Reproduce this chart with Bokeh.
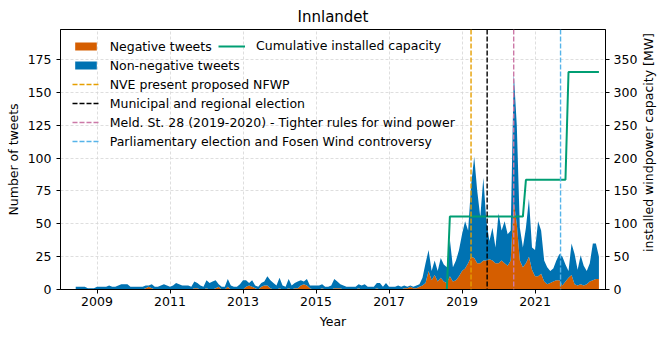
import math
from datetime import date
from bokeh.plotting import figure
from bokeh.models import (Range1d, LinearAxis, FixedTicker, Span, Legend, LegendItem,
                          ColumnDataSource, Label)
from bokeh.embed import file_html
from bokeh.resources import INLINE

# ---------------- data ----------------
first_month = (2008, 6)   # monthly series starts June 2008

negative = [
    0, 0, 0, 0, 0, 0, 0,                               # 2008 Jun-Dec
    0, 0, 0, 0, 0, 0, 0, 0, 0, 0, 0, 0,                 # 2009
    0, 0, 0, 0, 1, 2, 1, 0, 0, 0, 0, 0,                 # 2010
    0, 0, 0, 0, 0, 0, 0, 0, 1, 1, 0, 0,                 # 2011
    1, 0, 0, 1, 2, 0, 0, 2, 0, 0, 0, 0,                 # 2012
    0, 2, 3, 2, 1, 0, 2, 3, 3, 1, 0, 0,                 # 2013
    1, 0, 0, 1, 0, 1, 1, 3, 4, 3, 1, 0,                 # 2014
    0, 0, 1, 0, 0, 0, 1, 1, 1, 0, 0, 0,                 # 2015
    0, 0, 1, 0, 0, 0, 0, 0, 1, 0, 0, 0,                 # 2016
    0, 0, 0, 0, 0, 1, 1, 2, 1, 1, 2, 3,                 # 2017
    5, 14, 7, 11, 6, 9, 6, 5, 10, 6, 7, 10,             # 2018
    14, 16, 20, 25, 24, 20, 20, 22, 22, 23, 22, 20,     # 2019
    20, 22, 20, 18, 22, 67, 50, 22, 17, 20, 25, 15,     # 2020
    10, 10, 12, 6, 4, 5, 6, 7, 7, 3, 6, 9,              # 2021
    11, 4, 3, 4, 3, 4, 6, 7, 8, 8,                      # 2022 Jan-Oct
]

non_negative = [
    2, 2, 2, 2, 1, 1, 1,                                # 2008 Jun-Dec
    2, 2, 2, 2, 3, 2, 2, 3, 4, 4, 4, 2,                 # 2009
    2, 2, 2, 2, 2, 1, 3, 2, 2, 3, 4, 3,                 # 2010
    2, 3, 5, 4, 3, 3, 3, 2, 5, 4, 3, 2,                 # 2011
    6, 5, 6, 6, 2, 2, 2, 6, 3, 2, 2, 4,                 # 2012
    7, 5, 2, 5, 2, 2, 3, 3, 7, 6, 5, 3,                 # 2013
    8, 3, 2, 7, 3, 4, 5, 4, 2, 5, 2, 3,                 # 2014
    3, 3, 3, 2, 2, 3, 7, 5, 3, 3, 2, 2,                 # 2015
    2, 2, 3, 3, 4, 2, 2, 2, 4, 5, 2, 5,                 # 2016
    2, 2, 2, 3, 2, 2, 1, 1, 1, 2, 2, 6,                 # 2017
    15, 16, 7, 11, 8, 15, 13, 12, 28, 11, 15, 20,       # 2018
    28, 36, 25, 55, 77, 55, 35, 63, 30, 14, 25, 12,     # 2019
    38, 23, 32, 24, 23, 98, 75, 25, 15, 27, 44, 17,     # 2020
    20, 42, 33, 16, 13, 9, 10, 15, 20, 22, 13, 5,       # 2021
    24, 23, 12, 22, 15, 10, 14, 28, 27, 17,             # 2022 Jan-Oct
]

cap_months = ["2018-08", "2018-09", "2020-09", "2020-10", "2021-11", "2021-12", "2022-10"]
cap_mw = [0, 111, 111, 167, 167, 331, 331]

event_dates = ["2019-04-01", "2019-09-09", "2020-06-01", "2021-09-13"]
event_labels = ["NVE present proposed NFWP",
                "Municipal and regional election",
                "Meld. St. 28 (2019-2020) - Tighter rules for wind power",
                "Parliamentary election and Fosen Wind controversy"]
event_colors = ["#E69F00", "#000000", "#CC79A7", "#56B4E9"]

year_ticks = [2009, 2011, 2013, 2015, 2017, 2019, 2021]
tweet_ticks = [0, 25, 50, 75, 100, 125, 150, 175]
mw_ticks = [0, 50, 100, 150, 200, 250, 300, 350]

# ---------------- helpers ----------------
def month_to_year(y, m):
    return y + (m - 1) / 12.0

def day_to_year(s):
    d = date.fromisoformat(s)
    start = date(d.year, 1, 1)
    ndays = (date(d.year + 1, 1, 1) - start).days
    return d.year + (d - start).days / ndays

xs = []
y0, m0 = first_month
for i in range(len(negative)):
    k = m0 - 1 + i
    xs.append(month_to_year(y0 + k // 12, k % 12 + 1))

cap_x = [month_to_year(int(s[:4]), int(s[5:])) for s in cap_months]

FONT = "DejaVu Sans"
ORANGE = "#D55E00"
BLUE = "#0072B2"
GREEN = "#009E73"
NAN = float("nan")

X0, X1 = 2008.0, 2022.93
Y1 = 197.9
p = figure(width=665, height=338, output_backend="svg", toolbar_location=None,
           x_range=Range1d(X0, X1), y_range=Range1d(0, Y1),
           min_border_left=60, min_border_right=60, min_border_top=29, min_border_bottom=49)
p.extra_y_ranges = {"mw": Range1d(0, 2 * Y1)}

p.title.text = "Innlandet"
p.title.text_font = FONT
p.title.text_font_size = "15px"
p.title.text_font_style = "normal"
p.title.text_color = "black"
p.title.align = "center"
p.title.standoff = 7

p.background_fill_color = "white"
p.border_fill_color = "white"
p.outline_line_color = "black"
p.outline_line_width = 1

src = ColumnDataSource(dict(x=xs, negative=negative, non_negative=non_negative))
areas = p.varea_stack(stackers=["negative", "non_negative"], x="x",
                      color=[ORANGE, BLUE], source=src)

proxies = []
for d, c in zip(event_dates, event_colors):
    p.add_layout(Span(location=day_to_year(d), dimension="height", line_color=c,
                      line_dash="5 2", line_width=1.4))
    proxies.append(p.line(x=[NAN], y=[NAN], line_color=c, line_dash="5 2", line_width=1.4))

cap_line = p.line(x=cap_x, y=cap_mw, y_range_name="mw", line_color=GREEN, line_width=2)

# axes
p.xaxis.ticker = FixedTicker(ticks=year_ticks)
p.yaxis.ticker = FixedTicker(ticks=tweet_ticks)
p.xaxis.axis_label = "Year"
p.yaxis.axis_label = "Number of tweets"

right = LinearAxis(y_range_name="mw", ticker=FixedTicker(ticks=mw_ticks))
p.add_layout(right, "right")

for ax in [p.xaxis[0], p.yaxis[0], right]:
    ax.major_tick_out = 4
    ax.major_tick_in = 0
    ax.minor_tick_out = 0
    ax.minor_tick_in = 0
    ax.axis_line_color = "black"
    ax.major_tick_line_color = "black"
    ax.major_label_text_font = FONT
    ax.major_label_text_font_size = "12.5px"
    ax.major_label_text_color = "black"
    ax.axis_label_text_font = FONT
    ax.axis_label_text_font_size = "12.5px"
    ax.axis_label_text_font_style = "normal"
    ax.axis_label_text_color = "black"

p.xaxis.major_label_standoff = 3
p.xaxis.axis_label_standoff = 5
p.yaxis.major_label_standoff = 5
p.yaxis.axis_label_standoff = 4
right.major_label_standoff = 4

# right-hand axis title, reading bottom-to-top like the reference,
# placed in the right-hand side panel (outside the clipped plot area)
p.add_layout(Label(x=8, y=147, x_units="screen", y_units="screen",
                   text="installed windpower capacity [MW]", angle=90, angle_units="deg",
                   text_align="center", text_baseline="middle", text_font=FONT,
                   text_font_size="12.5px", text_color="black"), "right")

for g in (p.xgrid[0], p.ygrid[0]):
    g.grid_line_color = "#d5d5d5"
    g.grid_line_dash = "3 2"
    g.grid_line_width = 0.8
p.xgrid.ticker = FixedTicker(ticks=year_ticks)
p.ygrid.ticker = FixedTicker(ticks=tweet_ticks)

def style_legend(lg):
    lg.label_text_font = FONT
    lg.label_text_font_size = "12.5px"
    lg.label_text_color = "black"
    lg.background_fill_alpha = 0
    lg.border_line_alpha = 0
    lg.glyph_width = 27
    lg.glyph_height = 10
    lg.label_height = 10
    lg.label_standoff = 11
    lg.spacing = 4
    lg.padding = 5
    lg.margin = 0

items = [LegendItem(label="Negative tweets", renderers=[areas[0]]),
         LegendItem(label="Non-negative tweets", renderers=[areas[1]])]
for lab, r in zip(event_labels, proxies):
    items.append(LegendItem(label=lab, renderers=[r]))
leg1 = Legend(items=items, location=(6.7, 135.25))
style_legend(leg1)
p.add_layout(leg1)

leg2 = Legend(items=[LegendItem(label="Cumulative installed capacity", renderers=[cap_line])],
              location=(153, 230.75))
style_legend(leg2)
p.add_layout(leg2)

open("out.html", "w").write(file_html(p, INLINE))
